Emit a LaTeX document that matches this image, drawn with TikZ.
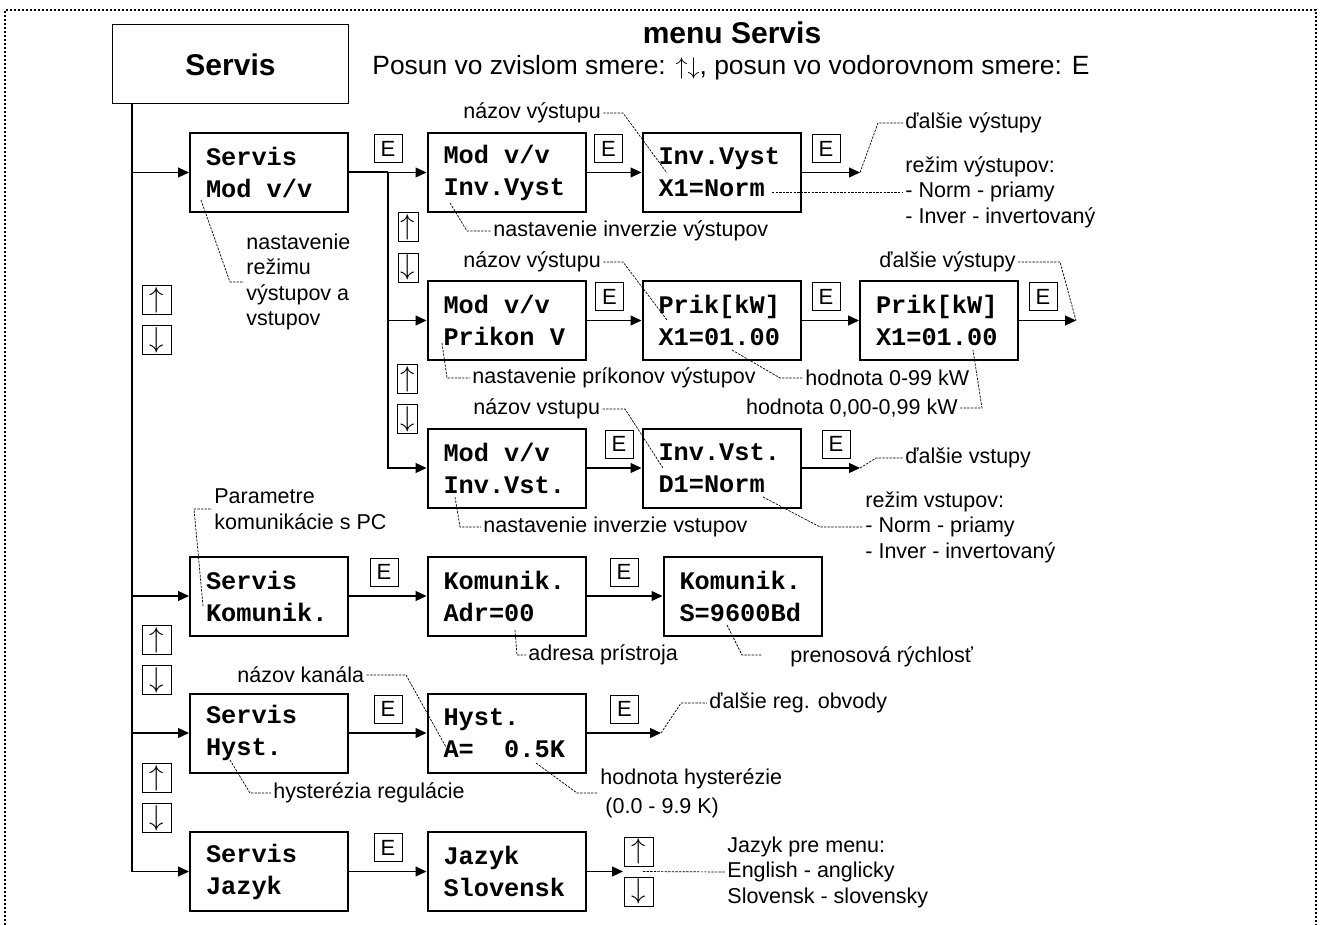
\documentclass[tikz,border=0pt]{standalone}
\usepackage{fontspec}
\setmainfont{Liberation Sans}
\setmonofont{Liberation Mono}
\usetikzlibrary{arrows.meta}
\newcommand{\lcdsp}{\hspace*{0.6em}}

\begin{document}
\begin{tikzpicture}[x=0.5pt, y=-0.5pt,
  lcdbox/.style={draw, line width=1pt, minimum width=79pt, minimum height=39.5pt, text width=63pt, inner xsep=8pt, inner ysep=0pt, align=left, font=\ttfamily\bfseries\fontsize{12.65}{16}\selectfont},
  ebox/.style={draw, line width=0.5pt, minimum width=14pt, minimum height=14pt, inner sep=0pt, font=\fontsize{11}{11}\selectfont},
  udbox/.style={draw, line width=0.5pt, minimum width=14.5pt, minimum height=14.5pt, inner sep=0pt, font=\fontsize{14}{14}\selectfont},
  udnarrow/.style={udbox, minimum width=10pt},
  flow/.style={-{Triangle[length=5.5pt,width=5pt]}, line width=0.6pt},
  leader/.style={line width=0.35pt, dash pattern=on 1.2pt off 0.6pt},
  remark/.style={inner sep=1pt, align=left, font=\fontsize{10.75}{12.75}\selectfont}]
\useasboundingbox (0,0) rectangle (1321,925);
\draw[line width=1pt, densely dotted] (5,925) -- (5,10) -- (1316,10) -- (1316,925);

\node[draw, line width=0.5pt, minimum width=118pt, minimum height=39.5pt, font=\bfseries\fontsize{15}{18}\selectfont] (top) at (230.5,64.5) {Servis};
\node[font=\bfseries\fontsize{15}{18}\selectfont] (ttl) at (732,33) {menu Servis};
\node[anchor=west, inner sep=0pt, font=\fontsize{13.2}{15}\selectfont] (sub) at (372,68) {Posun vo zvislom smere: $\uparrow\downarrow$,\ posun vo vodorovnom smere: E};

\node[lcdbox] (b11) at (269,172.5) {Servis\\Mod\lcdsp v/v};
\node[lcdbox] (b12) at (506.5,172.5) {Mod\lcdsp v/v\\Inv.Vyst};
\node[lcdbox] (b13) at (721.5,172.5) {Inv.Vyst\\X1=Norm};
\node[lcdbox] (b22) at (506.5,320.5) {Mod\lcdsp v/v\\Prikon\lcdsp V};
\node[lcdbox] (b23) at (721.5,320.5) {Prik[kW]\\X1=01.00};
\node[lcdbox] (b24) at (939,320.5) {Prik[kW]\\X1=01.00};
\node[lcdbox] (b32) at (506.5,468) {Mod\lcdsp v/v\\Inv.Vst.};
\node[lcdbox] (b33) at (721.5,468) {Inv.Vst.\\D1=Norm};
\node[lcdbox] (b41) at (269,596) {Servis\\Komunik.};
\node[lcdbox] (b42) at (506.5,596) {Komunik.\\Adr=00};
\node[lcdbox] (b43) at (742.5,596) {Komunik.\\S=9600Bd};
\node[lcdbox] (b51) at (269,733) {Servis\\Hyst.};
\node[lcdbox] (b52) at (506.5,733) {Hyst.\\A=\lcdsp\lcdsp 0.5K};
\node[lcdbox] (b61) at (269,871.5) {Servis\\Jazyk};
\node[lcdbox] (b62) at (506.5,871.5) {Jazyk\\Slovensk};

\node[ebox] (e11) at (388,148.5) {E};
\node[ebox] (e12) at (608.5,148.5) {E};
\node[ebox] (e13) at (826,148.5) {E};
\node[ebox] (e22) at (609.5,296.5) {E};
\node[ebox] (e23) at (826,296.5) {E};
\node[ebox] (e24) at (1043,296.5) {E};
\node[ebox] (e32) at (619,444) {E};
\node[ebox] (e33) at (836,444) {E};
\node[ebox] (e41) at (384,572) {E};
\node[ebox] (e42) at (624,572) {E};
\node[ebox] (e51) at (388,709) {E};
\node[ebox] (e52) at (624.5,709) {E};
\node[ebox] (e61) at (388,847.5) {E};

\foreach \n/\x/\y in {1/157/300, 2/157/640, 3/157/778, 6/639/851.5} {
  \node[udbox] (u\n) at (\x,\y) {$\uparrow$};
  \node[udbox] (d\n) at (\x,\y+40) {$\downarrow$};
}
\foreach \n/\x/\y in {4/408/227.5, 5/407.5/379} {
  \node[udnarrow] (u\n) at (\x,\y) {$\uparrow$};
  \node[udnarrow] (d\n) at (\x,\y+40) {$\downarrow$};
}

\coordinate (m0) at (132,104);
\coordinate (j1) at (388,172.5);
\coordinate (o1) at (860,172.5);
\coordinate (o2) at (1076,320.5);
\coordinate (o3) at (860,468);
\coordinate (o5) at (661,733);
\coordinate (o6) at (623,871.5);

\draw[flow] (m0) |- (b61);
\foreach \b in {b11,b41,b51} \draw[flow] (m0 |- \b) -- (\b);
\draw[line width=1pt] (b11) -- (j1);
\draw[flow] (j1) -- (b12);
\draw[flow] (j1) |- (b32);
\draw[flow] (j1 |- b22) -- (b22);
\draw[flow] (b12) -- (b13);
\draw[flow] (b13) -- (o1);
\draw[flow] (b22) -- (b23);
\draw[flow] (b23) -- (b24);
\draw[flow] (b24) -- (o2);
\draw[flow] (b32) -- (b33);
\draw[flow] (b33) -- (o3);
\draw[flow] (b41) -- (b42);
\draw[flow] (b42) -- (b43);
\draw[flow] (b51) -- (b52);
\draw[flow] (b52) -- (o5);
\draw[flow] (b61) -- (b62);
\draw[flow] (b62) -- (o6);

\begin{scope}[every node/.style=remark]
\node[anchor=west] (n1) at (461,113) {názov výstupu};
\node[anchor=west] (n2) at (491,231) {nastavenie inverzie výstupov};
\node[anchor=west] (n3) at (903,192) {režim výstupov:\\- Norm - priamy\\- Inver - invertovaný};
\node[anchor=west] (n4) at (903,123) {ďalšie výstupy};
\node[anchor=west] (n5) at (461,262) {názov výstupu};
\node[anchor=west] (n6) at (470,378) {nastavenie príkonov výstupov};
\node[anchor=west] (n7) at (803,378) {hodnota 0-99 kW};
\node[anchor=east] (n8) at (960,408) {hodnota 0,00-0,99 kW};
\node[anchor=east] (n9) at (1018,262) {ďalšie výstupy};
\node[anchor=west] (n10) at (471,409) {názov vstupu};
\node[anchor=west] (n11) at (481,527) {nastavenie inverzie vstupov};
\node[anchor=west] (n12) at (863,527) {režim vstupov:\\- Norm - priamy\\- Inver - invertovaný};
\node[anchor=west] (n13) at (903,458) {ďalšie vstupy};
\node[anchor=west] (n14) at (212,509) {Parametre\\komunikácie s PC};
\node[anchor=west] (n15) at (526,655) {adresa prístroja};
\node[anchor=west] (n16) at (788,657) {prenosová rýchlosť};
\node[anchor=west] (n17) at (235,675) {názov kanála};
\node[anchor=west] (n18) at (707,703) {ďalšie reg. obvody};
\node[anchor=west] (n19) at (271,793) {hysterézia regulácie};
\node[anchor=west, font=\fontsize{10.75}{14.3}\selectfont] (n20) at (598,793) {hodnota hysterézie\\\hspace*{2.5pt}(0.0 - 9.9 K)};
\node[anchor=west] (n21) at (725,872) {Jazyk pre menu:\\English - anglicky\\Slovensk - slovensky};
\node[anchor=west] (n22) at (244,282) {nastavenie\\režimu\\výstupov a\\vstupov};
\end{scope}

\coordinate (q1) at (667,173);
\coordinate (q2) at (450,203);
\coordinate (q3) at (772,192);
\coordinate (q5) at (667,320);
\coordinate (q6) at (442,343);
\coordinate (q7) at (732,350);
\coordinate (q8) at (973,350);
\coordinate (q10) at (663,468);
\coordinate (q11) at (455,497);
\coordinate (q12) at (763,497);
\coordinate (q14) at (203,606);
\coordinate (q15) at (515,630);
\coordinate (q16) at (727,625);
\coordinate (q16e) at (762,655);
\coordinate (q17) at (446,747);
\coordinate (q19) at (230,760);
\coordinate (q20) at (536,763);
\coordinate (q21) at (643,871.5);
\coordinate (q22) at (201,200);

\draw[leader] (n1.east) -- (623,113) -- (q1);
\draw[leader] (q2) -- (467,231) -- (n2.west);
\draw[leader] (q3) -- (n3.west);
\draw[leader] (o1) -- (878,123) -- (n4.west);
\draw[leader] (n5.east) -- (623,262) -- (q5);
\draw[leader] (q6) -- (447,378) -- (n6.west);
\draw[leader] (q7) -- (780,378) -- (n7.west);
\draw[leader] (n8.east) -- (982,408) -- (q8);
\draw[leader] (n9.east) -- (1060,262) -- (o2);
\draw[leader] (n10.east) -- (625,409) -- (q10);
\draw[leader] (q11) -- (460,527) -- (n11.west);
\draw[leader] (q12) -- (820,527) -- (n12.west);
\draw[leader] (o3) -- (876,458) -- (n13.west);
\draw[leader] (q14) -- (194,509) -- (n14.west);
\draw[leader] (q15) -- (517,655) -- (n15.west);
\draw[leader] (q16) -- (742,655) -- (q16e);
\draw[leader] (n17.east) -- (406,675) -- (q17);
\draw[leader] (o5) -- (681,703) -- (n18.west);
\draw[leader] (q19) -- (250,793) -- (n19.west);
\draw[leader] (q20) -- (577,793) -- (n20.west);
\draw[leader] (q21) -- (n21.west);
\draw[leader] (q22) -- (230,282) -- (n22.west);
\end{tikzpicture}
\end{document}
